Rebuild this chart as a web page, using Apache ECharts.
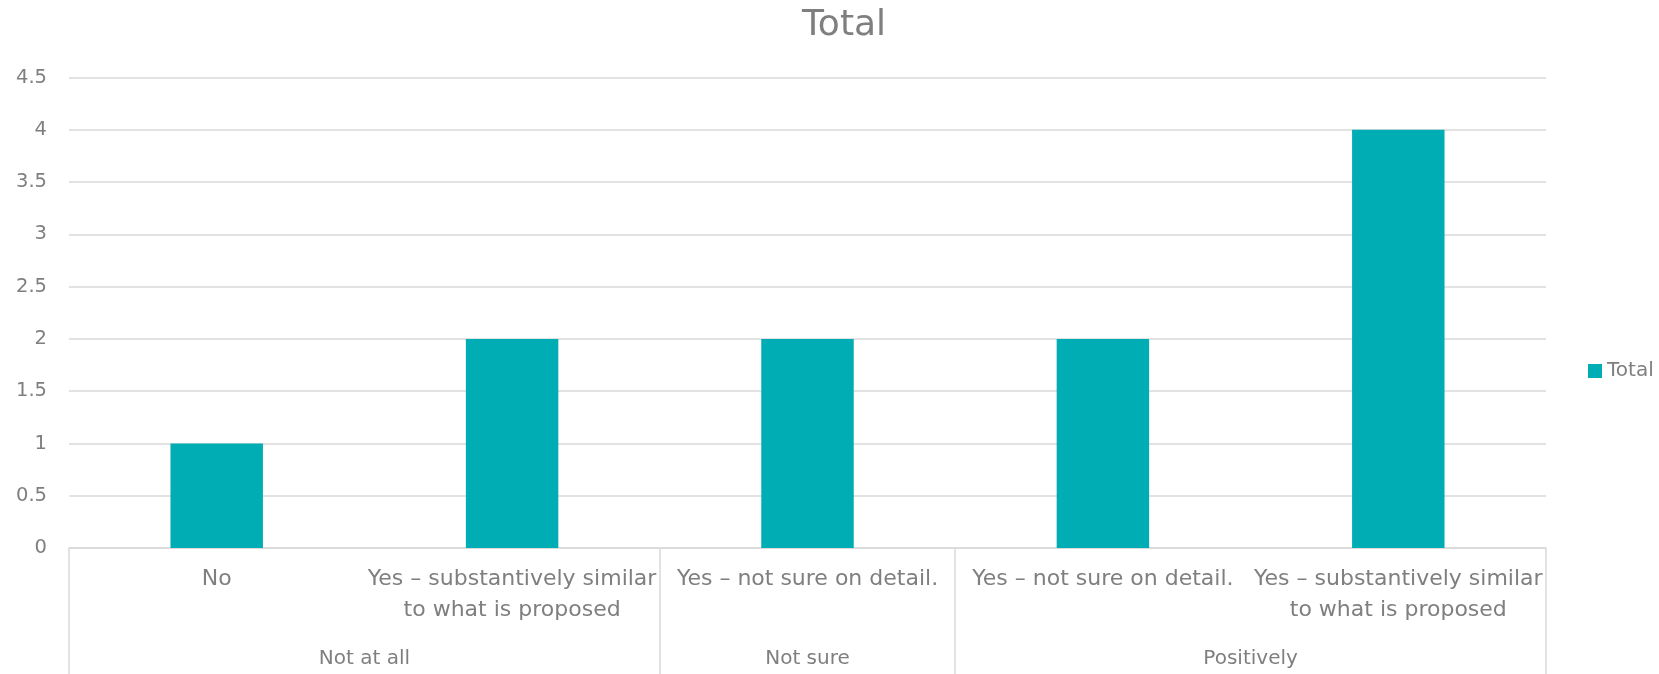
<!DOCTYPE html>
<html>
<head>
<meta charset="utf-8">
<script src="https://cdn.jsdelivr.net/npm/echarts@6/dist/echarts.min.js"></script>
<style>
html,body{margin:0;padding:0;background:#fff;}
#chart{width:1659px;height:674px;}
</style>
</head>
<body>
<div id="chart"></div>
<script>
var categories = ['No', 'Yes \u2013 substantively similar\nto what is proposed', 'Yes \u2013 not sure on detail.', 'Yes \u2013 not sure on detail.', 'Yes \u2013 substantively similar\nto what is proposed'];
var values = [1, 2, 2, 2, 4];
var groups = ['Not at all', 'Not sure', 'Positively'];
var groupSpans = [2, 1, 2];
var yTicks = [0, 0.5, 1, 1.5, 2, 2.5, 3, 3.5, 4, 4.5];
var seriesName = 'Total';

var boundaries = [0];
var centers = [];
var labelMap = {};
groupSpans.forEach(function (s, i) {
  var start = boundaries[boundaries.length - 1];
  var c = start + s / 2;
  centers.push(c);
  labelMap[String(c)] = groups[i];
  boundaries.push(start + s);
});

var textColor = '#7f7f7f';
var lineColor = '#d9d9d9';
var font = 'DejaVu Sans';

var chart = echarts.init(document.getElementById('chart'));
chart.setOption({
  animation: false,
  title: {
    text: 'Total',
    left: 797,
    top: 3,
    textStyle: { color: textColor, fontSize: 36, fontWeight: 'normal', fontFamily: font }
  },
  legend: {
    data: [seriesName],
    left: 1583,
    top: 356,
    icon: 'rect',
    itemWidth: 14,
    itemHeight: 14,
    textStyle: { color: textColor, fontSize: 20, fontFamily: font }
  },
  grid: { left: 69, right: 113, top: 77.5, bottom: 124, containLabel: false },
  xAxis: [
    {
      type: 'category',
      data: categories,
      position: 'bottom',
      axisLine: { show: true, lineStyle: { color: lineColor, width: 1.5 } },
      axisTick: { show: false },
      axisLabel: {
        interval: 0,
        color: textColor,
        fontSize: 22,
        lineHeight: 31,
        fontFamily: font,
        margin: 16,
        align: 'center'
      },
      splitLine: { show: false }
    },
    {
      type: 'value',
      min: 0,
      max: categories.length,
      position: 'bottom',
      offset: 0,
      axisLine: { show: false },
      axisTick: {
        show: true,
        customValues: boundaries,
        length: 130,
        lineStyle: { color: lineColor, width: 1.5 }
      },
      axisLabel: {
        show: true,
        customValues: centers,
        formatter: function (v) { return labelMap[String(v)] || ''; },
        color: textColor,
        fontSize: 20,
        lineHeight: 30,
        fontFamily: font,
        margin: 96
      },
      splitLine: { show: false }
    }
  ],
  yAxis: {
    type: 'value',
    min: yTicks[0],
    max: yTicks[yTicks.length - 1],
    interval: yTicks[1] - yTicks[0],
    axisLine: { show: false },
    axisTick: { show: false },
    axisLabel: { color: textColor, fontSize: 19.5, fontFamily: font, margin: 22 },
    splitLine: { lineStyle: { color: lineColor, width: 1.5 } }
  },
  series: [
    {
      name: seriesName,
      type: 'bar',
      xAxisIndex: 0,
      data: values,
      barWidth: '31.3%',
      itemStyle: { color: '#00adb5' }
    }
  ]
});
</script>
</body>
</html>
